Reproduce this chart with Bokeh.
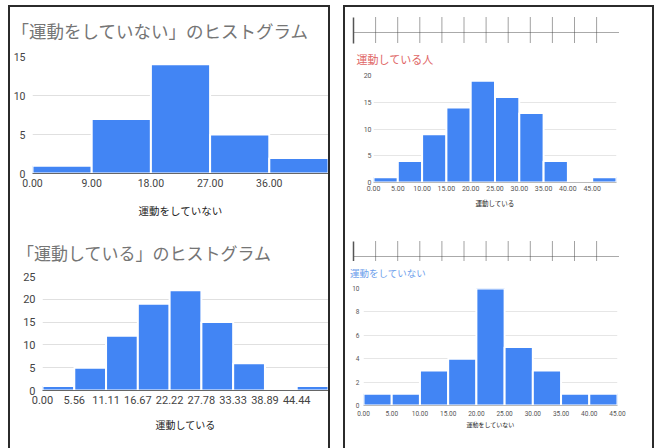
from bokeh.plotting import figure
from bokeh.layouts import row, column
from bokeh.models import Spacer, Range1d, FixedTicker, NumeralTickFormatter
from bokeh.embed import file_html
from bokeh.resources import INLINE

# ---------------- data ----------------
# left top: 「運動をしていない」のヒストグラム
a_edges = [0, 9, 18, 27, 36, 45]
a_counts = [1, 7, 14, 5, 2]
a_xticks = [0, 9, 18, 27, 36]
a_yticks = [0, 5, 10, 15]

# left bottom: 「運動している」のヒストグラム
b_edges = [0, 5.5556, 11.1111, 16.6667, 22.2222, 27.7778, 33.3333, 38.8889, 44.4444, 50.0]
b_counts = [1, 5, 12, 19, 22, 15, 6, 0, 1]
b_xticks = [0, 5.5556, 11.1111, 16.6667, 22.2222, 27.7778, 33.3333, 38.8889, 44.4444]
b_yticks = [0, 5, 10, 15, 20, 25]

# right top: 運動している人
c_edges = [0, 5, 10, 15, 20, 25, 30, 35, 40, 45, 50]
c_counts = [1, 4, 9, 14, 19, 16, 13, 4, 0, 1]
c_xticks = [0, 5, 10, 15, 20, 25, 30, 35, 40, 45]
c_yticks = [0, 5, 10, 15, 20]

# right bottom: 運動をしていない
d_edges = [0, 5, 10, 15, 20, 25, 30, 35, 40, 45]
d_counts = [1, 1, 3, 4, 10, 5, 3, 1, 1]
d_xticks = [0, 5, 10, 15, 20, 25, 30, 35, 40, 45]
d_yticks = [0, 2, 4, 6, 8, 10]

JP = "Noto Sans CJK JP"
NUM = "Roboto"
BLUE = "#4285f4"


def title_fig(text, w, h, mbt, size, color, offset):
    p = figure(title=text, width=w, height=h, output_backend="svg",
               toolbar_location=None, x_axis_type=None, y_axis_type=None,
               x_range=Range1d(0, 1), y_range=Range1d(0, 1),
               min_border_left=0, min_border_right=0,
               min_border_top=mbt, min_border_bottom=0,
               background_fill_color="white", border_fill_color="white")
    p.outline_line_color = None
    p.grid.visible = False
    p.title.text_font = JP
    p.title.text_font_size = f"{size}px"
    p.title.text_font_style = "normal"
    p.title.text_color = color
    p.title.align = "left"
    p.title.offset = offset
    p.title.standoff = 0
    return p


def hist(edges, counts, xticks, yticks, ymax, w, h, mbl, mbr, mbt, mbb,
         xlabel, tick_size, label_size, ylab_standoff, xlab_standoff,
         axlab_standoff, grid_color, base_color, tick_color):
    p = figure(width=w, height=h, output_backend="svg", toolbar_location=None,
               x_range=Range1d(edges[0], edges[-1]), y_range=Range1d(0, ymax),
               min_border_left=mbl, min_border_right=mbr,
               min_border_top=mbt, min_border_bottom=mbb,
               background_fill_color="white", border_fill_color="white")
    p.outline_line_color = None
    p.quad(left=edges[:-1], right=edges[1:], bottom=0, top=counts,
           fill_color=BLUE, line_color="white", line_width=2)
    p.xgrid.visible = False
    p.ygrid.ticker = FixedTicker(ticks=yticks)
    p.ygrid.grid_line_color = grid_color
    p.ygrid.grid_line_width = 1

    xa = p.xaxis[0]
    xa.ticker = FixedTicker(ticks=xticks)
    xa.formatter = NumeralTickFormatter(format="0.00")
    xa.major_tick_line_color = None
    xa.minor_tick_line_color = None
    xa.major_tick_out = 0
    xa.major_tick_in = 0
    xa.minor_tick_out = 0
    xa.minor_tick_in = 0
    xa.axis_line_color = base_color
    xa.major_label_text_font = NUM
    xa.major_label_text_font_size = f"{tick_size}px"
    xa.major_label_text_color = tick_color
    xa.major_label_standoff = xlab_standoff
    xa.axis_label = xlabel
    xa.axis_label_text_font = JP
    xa.axis_label_text_font_style = "normal"
    xa.axis_label_text_font_size = f"{label_size}px"
    xa.axis_label_text_color = "#222222"
    xa.axis_label_standoff = axlab_standoff

    ya = p.yaxis[0]
    ya.ticker = FixedTicker(ticks=yticks)
    ya.major_tick_line_color = None
    ya.minor_tick_line_color = None
    ya.major_tick_out = 0
    ya.major_tick_in = 0
    ya.minor_tick_out = 0
    ya.minor_tick_in = 0
    ya.axis_line_color = None
    ya.axis_label_standoff = 0
    ya.major_label_text_font = NUM
    ya.major_label_text_font_size = f"{tick_size}px"
    ya.major_label_text_color = tick_color
    ya.major_label_standoff = ylab_standoff
    return p


def ruler(w, h, y_line, y0, y1):
    p = figure(width=w, height=h, output_backend="svg", toolbar_location=None,
               x_range=Range1d(0, w), y_range=Range1d(h, 0),
               x_axis_type=None, y_axis_type=None,
               min_border_left=0, min_border_right=0,
               min_border_top=0, min_border_bottom=0,
               background_fill_color="white", border_fill_color="white")
    p.outline_line_color = None
    p.grid.visible = False
    xs = [8 + 22.1 * k for k in range(12)]
    p.segment(x0=[xs[0]], y0=[y_line], x1=[273], y1=[y_line],
              line_color="#555555", line_width=1, line_dash="1 1")
    p.segment(x0=[xs[0]], y0=[y0], x1=[xs[0]], y1=[y1],
              line_color="#555555", line_width=1.5)
    p.segment(x0=xs[1:], y0=[y0] * 11, x1=xs[1:], y1=[y1] * 11,
              line_color="#444444", line_width=1, line_dash="1 1")
    return p


def bar(w, h):
    return Spacer(width=w, height=h, styles={"background-color": "#2b2b2b"})


# left panel
tA = title_fig("「運動をしていない」のヒストグラム", 318, 45, 35, 17.5, "#757575", 1)
figA = hist(a_edges, a_counts, a_xticks, a_yticks, 15, 318, 168, 22, 0, 4, 47,
            "運動をしていない", 10.5, 10.5, 7, 5, 13, "#e0e0e0", "#666666", "#444444")
tB = title_fig("「運動している」のヒストグラム", 318, 50, 44, 17, "#757575", 6.5)
figB = hist(b_edges, b_counts, b_xticks, b_yticks, 25, 318, 178, 32, 0, 6, 58,
            "運動している", 11, 10, 7, 5, 10, "#e0e0e0", "#666666", "#444444")

# right panel
rulerC = ruler(307, 40, 25, 10, 36)
tC = title_fig("運動している人", 307, 24, 19, 11, "#e06666", 11)
figC = hist(c_edges, c_counts, c_xticks, c_yticks, 20, 307, 149, 28, 36, 4, 38,
            "運動している", 7, 6.5, 2, 3, 4, "#e6e6e6", "#bbbbbb", "#555555")
rulerD = ruler(307, 41, 36, 21, 41)
tD = title_fig("運動をしていない", 307, 24, 18, 9.5, "#6d9eeb", 4.5)
figD = hist(d_edges, d_counts, d_xticks, d_yticks, 10, 307, 163, 18, 35, 3, 43,
            "運動をしていない", 6.5, 6, 4, 5, 1, "#e6e6e6", "#bbbbbb", "#555555")

left_inner = column(bar(318, 2), row(tA), row(figA), row(tB), row(figB))
right_inner = column(bar(307, 2), row(rulerC), row(tC), row(figC),
                     row(rulerD), row(tD), row(figD))

left_panel = row(bar(2, 443), left_inner, bar(2, 443))
right_panel = row(bar(2, 443), right_inner, bar(2, 443))

root = column(Spacer(width=655, height=5),
              row(Spacer(width=8, height=443), left_panel,
                  Spacer(width=13, height=443), right_panel))

open("out.html", "w").write(file_html(root, INLINE))
